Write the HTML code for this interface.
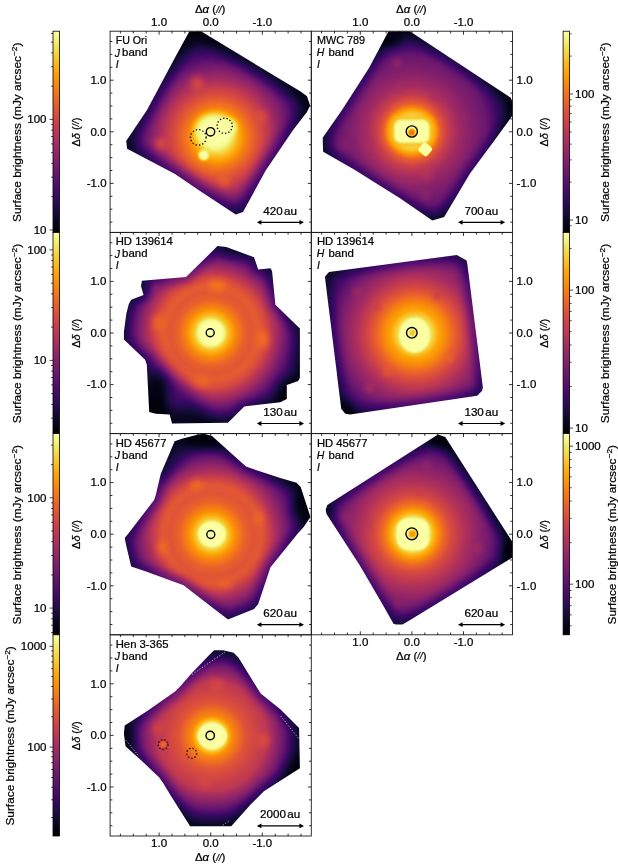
<!DOCTYPE html><html><head><meta charset="utf-8"><style>html,body{margin:0;padding:0;background:#fff;}svg{display:block;filter:blur(0.35px);}text{font-family:"Liberation Sans",sans-serif;fill:#000;stroke:#000;stroke-width:0.22px;}</style></head><body>
<svg width="618" height="866" viewBox="0 0 618 866">
<defs>
<filter id="inf" x="0" y="0" width="1" height="1" color-interpolation-filters="sRGB"><feComponentTransfer><feFuncR type="table" tableValues="0.0015 0.0060 0.0140 0.0258 0.0423 0.0613 0.0820 0.1046 0.1293 0.1558 0.1834 0.2111 0.2383 0.2648 0.2908 0.3163 0.3478 0.3728 0.3977 0.4225 0.4474 0.4723 0.4973 0.5222 0.5472 0.5721 0.5969 0.6217 0.6463 0.6706 0.6946 0.7183 0.7471 0.7696 0.7913 0.8122 0.8323 0.8514 0.8694 0.8863 0.9020 0.9165 0.9296 0.9415 0.9521 0.9613 0.9692 0.9757 0.9819 0.9853 0.9873 0.9879 0.9871 0.9849 0.9812 0.9761 0.9698 0.9625 0.9550 0.9487 0.9464 0.9517 0.9662 0.9884"/><feFuncG type="table" tableValues="0.0005 0.0047 0.0112 0.0193 0.0281 0.0366 0.0433 0.0470 0.0473 0.0446 0.0403 0.0370 0.0366 0.0396 0.0456 0.0535 0.0646 0.0739 0.0833 0.0925 0.1016 0.1105 0.1194 0.1281 0.1369 0.1458 0.1548 0.1642 0.1739 0.1842 0.1950 0.2066 0.2224 0.2361 0.2509 0.2668 0.2839 0.3023 0.3218 0.3426 0.3645 0.3875 0.4115 0.4364 0.4622 0.4887 0.5159 0.5438 0.5794 0.6084 0.6379 0.6677 0.6979 0.7284 0.7591 0.7900 0.8208 0.8515 0.8816 0.9105 0.9372 0.9606 0.9807 0.9984"/><feFuncB type="table" tableValues="0.0139 0.0386 0.0719 0.1059 0.1411 0.1776 0.2153 0.2534 0.2908 0.3253 0.3550 0.3786 0.3964 0.4093 0.4186 0.4251 0.4302 0.4324 0.4332 0.4327 0.4311 0.4283 0.4245 0.4195 0.4135 0.4064 0.3981 0.3888 0.3784 0.3669 0.3544 0.3409 0.3229 0.3075 0.2914 0.2747 0.2574 0.2396 0.2215 0.2030 0.1841 0.1649 0.1454 0.1254 0.1050 0.0843 0.0635 0.0436 0.0262 0.0242 0.0349 0.0583 0.0877 0.1208 0.1569 0.1960 0.2387 0.2855 0.3375 0.3953 0.4586 0.5242 0.5872 0.6449"/></feComponentTransfer></filter>
<linearGradient id="cbg" x1="0" y1="0" x2="0" y2="1"><stop offset="0.000" stop-color="#fcffa4"/><stop offset="0.050" stop-color="#f1ef75"/><stop offset="0.100" stop-color="#f6d746"/><stop offset="0.150" stop-color="#fbbe23"/><stop offset="0.200" stop-color="#fca50a"/><stop offset="0.250" stop-color="#f98e09"/><stop offset="0.300" stop-color="#f37819"/><stop offset="0.350" stop-color="#ea632a"/><stop offset="0.400" stop-color="#dd513a"/><stop offset="0.450" stop-color="#cc4248"/><stop offset="0.500" stop-color="#bc3754"/><stop offset="0.550" stop-color="#a82e5f"/><stop offset="0.600" stop-color="#932667"/><stop offset="0.650" stop-color="#7f1e6c"/><stop offset="0.700" stop-color="#6a176e"/><stop offset="0.750" stop-color="#57106e"/><stop offset="0.800" stop-color="#420a68"/><stop offset="0.850" stop-color="#2b0b57"/><stop offset="0.900" stop-color="#160b39"/><stop offset="0.950" stop-color="#07051b"/><stop offset="1.000" stop-color="#000004"/></linearGradient>
<filter id="b1" x="-150%" y="-150%" width="400%" height="400%"><feGaussianBlur stdDeviation="1"/></filter>
<filter id="b2" x="-150%" y="-150%" width="400%" height="400%"><feGaussianBlur stdDeviation="2"/></filter>
<filter id="b3" x="-150%" y="-150%" width="400%" height="400%"><feGaussianBlur stdDeviation="3"/></filter>
<filter id="b4" x="-150%" y="-150%" width="400%" height="400%"><feGaussianBlur stdDeviation="4"/></filter>
<filter id="b5" x="-150%" y="-150%" width="400%" height="400%"><feGaussianBlur stdDeviation="5"/></filter>
<filter id="b6" x="-150%" y="-150%" width="400%" height="400%"><feGaussianBlur stdDeviation="6"/></filter>
<filter id="b8" x="-150%" y="-150%" width="400%" height="400%"><feGaussianBlur stdDeviation="8"/></filter>
<filter id="b10" x="-150%" y="-150%" width="400%" height="400%"><feGaussianBlur stdDeviation="10"/></filter>
</defs>
<rect width="618" height="866" fill="#fff"/>
<defs>
<radialGradient id="rg0" gradientUnits="userSpaceOnUse" cx="217" cy="137" r="110"><stop offset="0.0000" stop-color="#ffffff"/><stop offset="0.1091" stop-color="#f2f2f2"/><stop offset="0.1818" stop-color="#d6d6d6"/><stop offset="0.2727" stop-color="#b5b5b5"/><stop offset="0.3636" stop-color="#9c9c9c"/><stop offset="0.4545" stop-color="#858585"/><stop offset="0.5455" stop-color="#6b6b6b"/><stop offset="0.6364" stop-color="#545454"/><stop offset="0.7273" stop-color="#3b3b3b"/><stop offset="0.8636" stop-color="#1a1a1a"/><stop offset="1.0000" stop-color="#080808"/></radialGradient>
<clipPath id="cp0"><polygon points="189.4,31.2 201.0,31.2 300.6,91.6 307.0,96.3 310.1,105.5 307.0,112.0 293.1,130.0 265.7,170.6 243.0,212.0 235.7,214.4 200.0,191.0 175.0,174.0 127.1,148.8 126.2,141.1 147.0,110.0 175.3,57.1"/></clipPath>
<radialGradient id="rg1" gradientUnits="userSpaceOnUse" cx="412" cy="131.5" r="115"><stop offset="0.0000" stop-color="#ffffff"/><stop offset="0.1391" stop-color="#ebebeb"/><stop offset="0.1739" stop-color="#d4d4d4"/><stop offset="0.2087" stop-color="#bdbdbd"/><stop offset="0.2435" stop-color="#a3a3a3"/><stop offset="0.3130" stop-color="#878787"/><stop offset="0.4087" stop-color="#6e6e6e"/><stop offset="0.5217" stop-color="#5c5c5c"/><stop offset="0.6522" stop-color="#4c4c4c"/><stop offset="0.7652" stop-color="#2e2e2e"/><stop offset="0.8696" stop-color="#141414"/><stop offset="1.0000" stop-color="#080808"/></radialGradient>
<clipPath id="cp1"><polygon points="388.5,31.2 409.8,31.2 510.8,97.8 512.5,102.0 512.5,115.5 494.8,140.0 470.0,173.4 444.2,217.0 432.3,220.4 400.0,198.3 353.7,169.2 323.1,151.7 322.7,137.7 342.0,110.0 369.0,68.0"/></clipPath>
<radialGradient id="rg2" gradientUnits="userSpaceOnUse" cx="211" cy="333" r="120"><stop offset="0.0000" stop-color="#ffffff"/><stop offset="0.1083" stop-color="#f7f7f7"/><stop offset="0.1417" stop-color="#dbdbdb"/><stop offset="0.2000" stop-color="#bfbfbf"/><stop offset="0.2750" stop-color="#a6a6a6"/><stop offset="0.3333" stop-color="#9c9c9c"/><stop offset="0.4000" stop-color="#9e9e9e"/><stop offset="0.4667" stop-color="#8f8f8f"/><stop offset="0.5417" stop-color="#737373"/><stop offset="0.6250" stop-color="#4f4f4f"/><stop offset="0.7333" stop-color="#262626"/><stop offset="0.8333" stop-color="#0f0f0f"/><stop offset="1.0000" stop-color="#000000"/></radialGradient>
<clipPath id="cp2"><polygon points="141.9,280.7 186.0,277.0 211.0,252.4 217.4,245.9 226.3,247.0 254.1,257.3 258.2,269.6 270.5,268.3 272.1,271.2 275.4,304.7 299.9,328.4 299.9,377.8 298.2,381.0 286.8,385.1 286.8,399.0 280.3,402.3 244.3,406.4 228.0,422.7 172.1,423.5 169.6,414.5 155.8,413.7 149.2,412.1 146.8,364.7 145.1,359.8 123.9,339.4 123.9,332.0 126.3,313.7 128.8,303.9 131.2,299.8 143.5,295.0 141.0,286.0"/></clipPath>
<radialGradient id="rg3" gradientUnits="userSpaceOnUse" cx="415" cy="334" r="110"><stop offset="0.0000" stop-color="#ffffff"/><stop offset="0.1273" stop-color="#f7f7f7"/><stop offset="0.1727" stop-color="#e0e0e0"/><stop offset="0.2182" stop-color="#cccccc"/><stop offset="0.2818" stop-color="#bdbdbd"/><stop offset="0.3636" stop-color="#a3a3a3"/><stop offset="0.4545" stop-color="#8a8a8a"/><stop offset="0.5636" stop-color="#707070"/><stop offset="0.6818" stop-color="#575757"/><stop offset="0.8182" stop-color="#383838"/><stop offset="1.0000" stop-color="#141414"/></radialGradient>
<clipPath id="cp3"><polygon points="329.0,271.9 456.8,255.0 466.6,260.4 467.4,264.5 482.9,387.6 482.1,390.8 477.2,395.7 350.2,414.5 345.3,413.7 341.2,408.8 324.9,276.8"/></clipPath>
<radialGradient id="rg4" gradientUnits="userSpaceOnUse" cx="212" cy="534.5" r="125"><stop offset="0.0000" stop-color="#ffffff"/><stop offset="0.0960" stop-color="#f7f7f7"/><stop offset="0.1280" stop-color="#dedede"/><stop offset="0.1760" stop-color="#c4c4c4"/><stop offset="0.2560" stop-color="#a8a8a8"/><stop offset="0.3360" stop-color="#999999"/><stop offset="0.4000" stop-color="#999999"/><stop offset="0.4800" stop-color="#808080"/><stop offset="0.5760" stop-color="#5c5c5c"/><stop offset="0.7040" stop-color="#333333"/><stop offset="0.8400" stop-color="#0f0f0f"/><stop offset="1.0000" stop-color="#000000"/></radialGradient>
<clipPath id="cp4"><polygon points="174.6,441.2 181.9,438.7 198.2,434.6 204.0,433.8 212.0,436.0 246.0,466.5 257.4,470.6 280.3,478.0 296.6,482.8 300.7,486.9 309.7,514.7 310.5,517.0 303.5,527.3 298.2,533.0 270.5,567.3 263.9,586.9 258.2,604.1 254.1,609.0 228.0,619.6 211.0,606.5 183.5,585.3 159.0,576.3 146.0,571.4 131.2,566.5 126.3,546.1 124.7,537.9 128.0,534.0 154.1,500.0 155.8,495.1 160.7,473.9 170.5,451.0"/></clipPath>
<radialGradient id="rg5" gradientUnits="userSpaceOnUse" cx="413" cy="534" r="115"><stop offset="0.0000" stop-color="#ffffff"/><stop offset="0.1391" stop-color="#f2f2f2"/><stop offset="0.1739" stop-color="#d9d9d9"/><stop offset="0.2174" stop-color="#c2c2c2"/><stop offset="0.2609" stop-color="#adadad"/><stop offset="0.3304" stop-color="#949494"/><stop offset="0.4174" stop-color="#808080"/><stop offset="0.5217" stop-color="#6b6b6b"/><stop offset="0.6522" stop-color="#525252"/><stop offset="0.8261" stop-color="#2b2b2b"/><stop offset="1.0000" stop-color="#0d0d0d"/></radialGradient>
<clipPath id="cp5"><polygon points="438.0,434.6 445.3,437.1 507.4,534.0 512.5,542.0 512.5,557.5 411.0,619.6 402.5,624.5 396.0,624.5 393.5,623.7 382.9,604.9 360.0,565.7 338.8,533.0 326.5,513.9 325.7,509.8 327.3,504.9 412.0,451.0"/></clipPath>
<radialGradient id="rg6" gradientUnits="userSpaceOnUse" cx="212" cy="736" r="120"><stop offset="0.0000" stop-color="#ffffff"/><stop offset="0.1083" stop-color="#f7f7f7"/><stop offset="0.1333" stop-color="#d9d9d9"/><stop offset="0.1667" stop-color="#bfbfbf"/><stop offset="0.2750" stop-color="#9c9c9c"/><stop offset="0.3750" stop-color="#8c8c8c"/><stop offset="0.4583" stop-color="#808080"/><stop offset="0.5583" stop-color="#5c5c5c"/><stop offset="0.6667" stop-color="#303030"/><stop offset="0.7500" stop-color="#1a1a1a"/><stop offset="0.8333" stop-color="#0d0d0d"/><stop offset="1.0000" stop-color="#050505"/></radialGradient>
<clipPath id="cp6"><polygon points="209.7,654.4 214.1,650.3 223.1,650.3 233.7,652.8 238.6,657.7 260.7,693.6 280.3,709.2 299.1,728.0 299.9,768.3 263.9,791.2 250.9,804.3 231.2,826.3 190.1,826.3 170.5,795.3 163.1,783.0 159.0,777.3 142.7,761.8 125.5,746.3 123.9,734.0 124.7,725.5 147.6,710.8 175.4,691.2 180.3,686.3 191.7,673.2"/></clipPath>
</defs>
<g clip-path="url(#cp0)"><g filter="url(#inf)">
<rect x="110.1" y="31.2" width="201.2" height="201.2" fill="url(#rg0)"/>
<ellipse cx="214" cy="131" rx="19" ry="17" fill="#ffffff" opacity="1.0" filter="url(#b3)"/>
<ellipse cx="228" cy="127" rx="9" ry="9" fill="#ffffff" opacity="0.9" filter="url(#b2)"/>
<ellipse cx="203.7" cy="155.2" rx="5.3" ry="5.3" fill="#ffffff" opacity="1.0" filter="url(#b1)"/>
<ellipse cx="224.3" cy="180.8" rx="6" ry="6" fill="#a8a8a8" opacity="0.8" filter="url(#b3)"/>
<ellipse cx="160.6" cy="144" rx="6" ry="6" fill="#999999" opacity="0.9" filter="url(#b3)"/>
<ellipse cx="197" cy="83" rx="7" ry="7" fill="#9e9e9e" opacity="0.7" filter="url(#b3)"/>
<ellipse cx="261.5" cy="116.6" rx="6" ry="6" fill="#9e9e9e" opacity="0.7" filter="url(#b3)"/>
<line x1="196" y1="28" x2="312" y2="103" stroke="#000" stroke-width="16" opacity="0.25" filter="url(#b6)"/>
<polygon points="189.4,31.2 201.0,31.2 300.6,91.6 307.0,96.3 310.1,105.5 307.0,112.0 293.1,130.0 265.7,170.6 243.0,212.0 235.7,214.4 200.0,191.0 175.0,174.0 127.1,148.8 126.2,141.1 147.0,110.0 175.3,57.1" fill="none" stroke="#000" stroke-width="14" opacity="0.6" filter="url(#b6)"/>
</g>
</g>
<circle cx="210.5" cy="131.8" r="4.2" fill="none" stroke="#000" stroke-width="1.4"/>
<circle cx="198.3" cy="137.4" r="7.8" fill="none" stroke="#000" stroke-width="1.3" stroke-dasharray="1.3 2.1"/>
<circle cx="224.7" cy="125.8" r="7.6" fill="none" stroke="#000" stroke-width="1.3" stroke-dasharray="1.3 2.1"/>
<g clip-path="url(#cp1)"><g filter="url(#inf)">
<rect x="311.3" y="31.2" width="201.2" height="201.2" fill="url(#rg1)"/>
<ellipse cx="426" cy="174" rx="6" ry="6" fill="#808080" opacity="0.7" filter="url(#b3)"/>
<ellipse cx="345" cy="145" rx="6" ry="6" fill="#616161" opacity="0.6" filter="url(#b3)"/>
<ellipse cx="368" cy="143" rx="6" ry="6" fill="#737373" opacity="0.6" filter="url(#b3)"/>
<ellipse cx="397" cy="63.5" rx="5" ry="5" fill="#6b6b6b" opacity="0.6" filter="url(#b2)"/>
<ellipse cx="399" cy="88" rx="5" ry="5" fill="#757575" opacity="0.6" filter="url(#b2)"/>
<ellipse cx="434.6" cy="96" rx="5" ry="5" fill="#757575" opacity="0.6" filter="url(#b2)"/>
<ellipse cx="463.8" cy="115.6" rx="5" ry="5" fill="#666666" opacity="0.6" filter="url(#b2)"/>
<ellipse cx="426" cy="195" rx="5" ry="5" fill="#666666" opacity="0.6" filter="url(#b2)"/>
<ellipse cx="389" cy="40" rx="14" ry="7" fill="#000000" opacity="0.7" filter="url(#b5)"/>
<rect x="389" y="115.5" width="45.6" height="31.5" rx="12" fill="#d6d6d6" filter="url(#b3)"/>
<rect x="394" y="119.6" width="35.6" height="23.5" rx="7" fill="#ffffff" filter="url(#b1)"/>
<rect x="419.7" y="143.9" width="11.2" height="11.2" rx="2.5" fill="#ffffff" transform="rotate(40 425.3 149.5)"/>
<polygon points="388.5,31.2 409.8,31.2 510.8,97.8 512.5,102.0 512.5,115.5 494.8,140.0 470.0,173.4 444.2,217.0 432.3,220.4 400.0,198.3 353.7,169.2 323.1,151.7 322.7,137.7 342.0,110.0 369.0,68.0" fill="none" stroke="#000" stroke-width="12" opacity="0.5" filter="url(#b5)"/>
<circle cx="411.8" cy="132.5" r="3.5" fill="#adadad" filter="url(#b1)"/>
</g>
</g>
<circle cx="411.8" cy="131.5" r="5.6" fill="none" stroke="#000" stroke-width="1.4"/>
<g clip-path="url(#cp2)"><g filter="url(#inf)">
<rect x="110.1" y="232.4" width="201.2" height="201.2" fill="url(#rg2)"/>
<ellipse cx="211.5" cy="333" rx="12" ry="12" fill="#ffffff" opacity="1.0" filter="url(#b1)"/>
<ellipse cx="157" cy="395" rx="12" ry="24" fill="#000000" opacity="0.85" filter="url(#b6)"/>
<ellipse cx="185" cy="416" rx="16" ry="8" fill="#0d0d0d" opacity="0.6" filter="url(#b5)"/>
<ellipse cx="138" cy="290" rx="8" ry="8" fill="#0d0d0d" opacity="0.6" filter="url(#b4)"/>
<ellipse cx="288" cy="392" rx="12" ry="12" fill="#000000" opacity="0.6" filter="url(#b6)"/>
<ellipse cx="232" cy="250" rx="14" ry="8" fill="#0d0d0d" opacity="0.5" filter="url(#b5)"/>
<ellipse cx="217.3" cy="285.7" rx="9" ry="6" fill="#b8b8b8" opacity="0.8" filter="url(#b3)"/>
<ellipse cx="158.8" cy="323" rx="6" ry="9" fill="#adadad" opacity="0.8" filter="url(#b3)"/>
<ellipse cx="262.8" cy="339.3" rx="6" ry="9" fill="#b2b2b2" opacity="0.8" filter="url(#b3)"/>
<ellipse cx="201" cy="381.6" rx="9" ry="6" fill="#adadad" opacity="0.8" filter="url(#b3)"/>
<ellipse cx="155.8" cy="286" rx="4" ry="3" fill="#737373" opacity="0.7" filter="url(#b2)"/>
<line x1="140" y1="355" x2="215" y2="430" stroke="#000" stroke-width="18" opacity="0.55" filter="url(#b8)"/>
<line x1="272" y1="268" x2="300" y2="330" stroke="#000" stroke-width="10" opacity="0.3" filter="url(#b6)"/>
<circle cx="211" cy="333" r="47" fill="none" stroke="#adadad" stroke-width="12" opacity="0.22" filter="url(#b4)"/>
<polygon points="141.9,280.7 186.0,277.0 211.0,252.4 217.4,245.9 226.3,247.0 254.1,257.3 258.2,269.6 270.5,268.3 272.1,271.2 275.4,304.7 299.9,328.4 299.9,377.8 298.2,381.0 286.8,385.1 286.8,399.0 280.3,402.3 244.3,406.4 228.0,422.7 172.1,423.5 169.6,414.5 155.8,413.7 149.2,412.1 146.8,364.7 145.1,359.8 123.9,339.4 123.9,332.0 126.3,313.7 128.8,303.9 131.2,299.8 143.5,295.0 141.0,286.0" fill="none" stroke="#000" stroke-width="10" opacity="0.4" filter="url(#b5)"/>
</g>
</g>
<circle cx="210.2" cy="332.8" r="4.0" fill="none" stroke="#000" stroke-width="1.4"/>
<g clip-path="url(#cp3)"><g filter="url(#inf)">
<rect x="311.3" y="232.4" width="201.2" height="201.2" fill="url(#rg3)"/>
<ellipse cx="414.5" cy="335.5" rx="15" ry="17.5" fill="#ffffff" opacity="1.0" filter="url(#b1)"/>
<ellipse cx="345" cy="410" rx="10" ry="10" fill="#000000" opacity="0.7" filter="url(#b5)"/>
<ellipse cx="357.6" cy="292.3" rx="5" ry="5" fill="#737373" opacity="0.6" filter="url(#b2)"/>
<ellipse cx="375.6" cy="307" rx="4" ry="4" fill="#858585" opacity="0.6" filter="url(#b2)"/>
<ellipse cx="452.7" cy="276.8" rx="5" ry="5" fill="#6b6b6b" opacity="0.6" filter="url(#b2)"/>
<ellipse cx="437.1" cy="295.6" rx="4" ry="4" fill="#808080" opacity="0.6" filter="url(#b2)"/>
<ellipse cx="449.2" cy="357.2" rx="5" ry="5" fill="#a8a8a8" opacity="0.6" filter="url(#b2)"/>
<ellipse cx="387.4" cy="371.8" rx="5" ry="5" fill="#a3a3a3" opacity="0.6" filter="url(#b2)"/>
<ellipse cx="369.5" cy="388" rx="5" ry="5" fill="#7a7a7a" opacity="0.6" filter="url(#b2)"/>
<polygon points="329.0,271.9 456.8,255.0 466.6,260.4 467.4,264.5 482.9,387.6 482.1,390.8 477.2,395.7 350.2,414.5 345.3,413.7 341.2,408.8 324.9,276.8" fill="none" stroke="#000" stroke-width="10" opacity="0.5" filter="url(#b5)"/>
<circle cx="412.5" cy="333" r="3.2" fill="#dbdbdb" filter="url(#b1)"/>
</g>
</g>
<circle cx="411.8" cy="332.8" r="5.3" fill="none" stroke="#000" stroke-width="1.4"/>
<g clip-path="url(#cp4)"><g filter="url(#inf)">
<rect x="110.1" y="433.6" width="201.2" height="201.2" fill="url(#rg4)"/>
<ellipse cx="212" cy="534" rx="13.5" ry="12" fill="#ffffff" opacity="1.0" filter="url(#b1)"/>
<ellipse cx="206" cy="440" rx="18" ry="10" fill="#000000" opacity="0.8" filter="url(#b6)"/>
<ellipse cx="302" cy="508" rx="10" ry="16" fill="#000000" opacity="0.8" filter="url(#b6)"/>
<ellipse cx="196.6" cy="485.3" rx="7" ry="5" fill="#b2b2b2" opacity="0.8" filter="url(#b3)"/>
<ellipse cx="162.3" cy="547.7" rx="5" ry="7" fill="#b2b2b2" opacity="0.8" filter="url(#b3)"/>
<ellipse cx="224.7" cy="583.7" rx="7" ry="5" fill="#a8a8a8" opacity="0.8" filter="url(#b3)"/>
<ellipse cx="259" cy="518" rx="5" ry="7" fill="#adadad" opacity="0.8" filter="url(#b3)"/>
<line x1="200" y1="432" x2="160" y2="478" stroke="#000" stroke-width="14" opacity="0.45" filter="url(#b6)"/>
<line x1="210" y1="432" x2="305" y2="488" stroke="#000" stroke-width="14" opacity="0.4" filter="url(#b6)"/>
<circle cx="212" cy="534.5" r="48" fill="none" stroke="#adadad" stroke-width="12" opacity="0.25" filter="url(#b4)"/>
<polygon points="174.6,441.2 181.9,438.7 198.2,434.6 204.0,433.8 212.0,436.0 246.0,466.5 257.4,470.6 280.3,478.0 296.6,482.8 300.7,486.9 309.7,514.7 310.5,517.0 303.5,527.3 298.2,533.0 270.5,567.3 263.9,586.9 258.2,604.1 254.1,609.0 228.0,619.6 211.0,606.5 183.5,585.3 159.0,576.3 146.0,571.4 131.2,566.5 126.3,546.1 124.7,537.9 128.0,534.0 154.1,500.0 155.8,495.1 160.7,473.9 170.5,451.0" fill="none" stroke="#000" stroke-width="12" opacity="0.45" filter="url(#b5)"/>
</g>
</g>
<circle cx="210.8" cy="534.5" r="4.0" fill="none" stroke="#000" stroke-width="1.4"/>
<g clip-path="url(#cp5)"><g filter="url(#inf)">
<rect x="311.3" y="433.6" width="201.2" height="201.2" fill="url(#rg5)"/>
<ellipse cx="345.3" cy="518" rx="5" ry="5" fill="#6b6b6b" opacity="0.6" filter="url(#b2)"/>
<ellipse cx="367.4" cy="526" rx="5" ry="4" fill="#808080" opacity="0.6" filter="url(#b2)"/>
<ellipse cx="426.5" cy="465.7" rx="5" ry="5" fill="#6b6b6b" opacity="0.6" filter="url(#b2)"/>
<ellipse cx="478" cy="548.5" rx="5" ry="5" fill="#737373" opacity="0.6" filter="url(#b2)"/>
<ellipse cx="420" cy="491.5" rx="4" ry="5" fill="#858585" opacity="0.6" filter="url(#b2)"/>
<ellipse cx="403.7" cy="579.3" rx="4" ry="5" fill="#858585" opacity="0.6" filter="url(#b2)"/>
<ellipse cx="397.2" cy="602.1" rx="5" ry="5" fill="#666666" opacity="0.6" filter="url(#b2)"/>
<ellipse cx="441" cy="440" rx="12" ry="9" fill="#000000" opacity="0.8" filter="url(#b5)"/>
<ellipse cx="510" cy="552" rx="9" ry="12" fill="#000000" opacity="0.8" filter="url(#b5)"/>
<ellipse cx="327" cy="510" rx="6" ry="8" fill="#000000" opacity="0.5" filter="url(#b4)"/>
<line x1="442" y1="432" x2="518" y2="552" stroke="#000" stroke-width="12" opacity="0.45" filter="url(#b5)"/>
<rect x="397" y="518.5" width="32" height="31.5" rx="10" fill="#ffffff" filter="url(#b1)"/>
<polygon points="438.0,434.6 445.3,437.1 507.4,534.0 512.5,542.0 512.5,557.5 411.0,619.6 402.5,624.5 396.0,624.5 393.5,623.7 382.9,604.9 360.0,565.7 338.8,533.0 326.5,513.9 325.7,509.8 327.3,504.9 412.0,451.0" fill="none" stroke="#000" stroke-width="12" opacity="0.5" filter="url(#b5)"/>
<circle cx="412.5" cy="534" r="3.8" fill="#c2c2c2" filter="url(#b1)"/>
</g>
</g>
<circle cx="411.8" cy="533.8" r="5.9" fill="none" stroke="#000" stroke-width="1.4"/>
<g clip-path="url(#cp6)"><g filter="url(#inf)">
<rect x="110.1" y="634.8" width="201.2" height="201.2" fill="url(#rg6)"/>
<ellipse cx="212.5" cy="736" rx="14.5" ry="12" fill="#ffffff" opacity="1.0" filter="url(#b1)"/>
<ellipse cx="297" cy="770" rx="10" ry="14" fill="#000000" opacity="0.7" filter="url(#b6)"/>
<ellipse cx="128" cy="737" rx="8" ry="14" fill="#000000" opacity="0.5" filter="url(#b5)"/>
<ellipse cx="216.5" cy="684.7" rx="7" ry="6" fill="#949494" opacity="0.8" filter="url(#b3)"/>
<ellipse cx="262.3" cy="740.5" rx="7" ry="7" fill="#999999" opacity="0.8" filter="url(#b3)"/>
<ellipse cx="158" cy="728" rx="6" ry="6" fill="#949494" opacity="0.7" filter="url(#b3)"/>
<ellipse cx="163.1" cy="744.6" rx="3" ry="3" fill="#b2b2b2" opacity="0.9" filter="url(#b1)"/>
<ellipse cx="205" cy="782" rx="7" ry="6" fill="#949494" opacity="0.7" filter="url(#b3)"/>
<polygon points="209.7,654.4 214.1,650.3 223.1,650.3 233.7,652.8 238.6,657.7 260.7,693.6 280.3,709.2 299.1,728.0 299.9,768.3 263.9,791.2 250.9,804.3 231.2,826.3 190.1,826.3 170.5,795.3 163.1,783.0 159.0,777.3 142.7,761.8 125.5,746.3 123.9,734.0 124.7,725.5 147.6,710.8 175.4,691.2 180.3,686.3 191.7,673.2" fill="none" stroke="#000" stroke-width="12" opacity="0.45" filter="url(#b5)"/>
</g>
<line x1="192" y1="674.5" x2="225" y2="652" stroke="#fff" stroke-width="0.9" stroke-dasharray="1.2 1.8" opacity="0.75"/>
<line x1="280.8" y1="716.1" x2="299" y2="739" stroke="#fff" stroke-width="0.9" stroke-dasharray="1.2 1.8" opacity="0.75"/>
<line x1="124.2" y1="738" x2="138.1" y2="755.2" stroke="#fff" stroke-width="0.9" stroke-dasharray="1.2 1.8" opacity="0.75"/>
<line x1="222.7" y1="825.2" x2="229.5" y2="820.5" stroke="#fff" stroke-width="0.9" stroke-dasharray="1.2 1.8" opacity="0.75"/>
</g>
<circle cx="210.2" cy="735.5" r="4.2" fill="none" stroke="#000" stroke-width="1.4"/>
<circle cx="163.1" cy="744.6" r="4.9" fill="none" stroke="#000" stroke-width="1.3" stroke-dasharray="1.3 2.1"/>
<circle cx="191.7" cy="753.3" r="5.0" fill="none" stroke="#000" stroke-width="1.3" stroke-dasharray="1.3 2.1"/>
<rect x="110.10" y="31.20" width="201.2" height="201.2" fill="none" stroke="#1a1a1a" stroke-width="0.9"/>
<path d="M301.00 31.20v2.3M311.30 222.10h-2.3M110.10 222.10h2.3M288.10 31.20v2.3M311.30 209.20h-2.3M110.10 209.20h2.3M275.20 31.20v2.3M311.30 196.30h-2.3M110.10 196.30h2.3M262.30 31.20v3.5M311.30 183.40h-3.5M110.10 183.40h3.5M249.40 31.20v2.3M311.30 170.50h-2.3M110.10 170.50h2.3M236.50 31.20v2.3M311.30 157.60h-2.3M110.10 157.60h2.3M223.60 31.20v2.3M311.30 144.70h-2.3M110.10 144.70h2.3M210.70 31.20v3.5M311.30 131.80h-3.5M110.10 131.80h3.5M197.80 31.20v2.3M311.30 118.90h-2.3M110.10 118.90h2.3M184.90 31.20v2.3M311.30 106.00h-2.3M110.10 106.00h2.3M172.00 31.20v2.3M311.30 93.10h-2.3M110.10 93.10h2.3M159.10 31.20v3.5M311.30 80.20h-3.5M110.10 80.20h3.5M146.20 31.20v2.3M311.30 67.30h-2.3M110.10 67.30h2.3M133.30 31.20v2.3M311.30 54.40h-2.3M110.10 54.40h2.3M120.40 31.20v2.3M311.30 41.50h-2.3M110.10 41.50h2.3" stroke="#000" stroke-width="0.8" fill="none"/>
<rect x="311.30" y="31.20" width="201.2" height="201.2" fill="none" stroke="#1a1a1a" stroke-width="0.9"/>
<path d="M502.20 31.20v2.3M512.50 222.10h-2.3M489.30 31.20v2.3M512.50 209.20h-2.3M476.40 31.20v2.3M512.50 196.30h-2.3M463.50 31.20v3.5M512.50 183.40h-3.5M450.60 31.20v2.3M512.50 170.50h-2.3M437.70 31.20v2.3M512.50 157.60h-2.3M424.80 31.20v2.3M512.50 144.70h-2.3M411.90 31.20v3.5M512.50 131.80h-3.5M399.00 31.20v2.3M512.50 118.90h-2.3M386.10 31.20v2.3M512.50 106.00h-2.3M373.20 31.20v2.3M512.50 93.10h-2.3M360.30 31.20v3.5M512.50 80.20h-3.5M347.40 31.20v2.3M512.50 67.30h-2.3M334.50 31.20v2.3M512.50 54.40h-2.3M321.60 31.20v2.3M512.50 41.50h-2.3" stroke="#000" stroke-width="0.8" fill="none"/>
<rect x="110.10" y="232.40" width="201.2" height="201.2" fill="none" stroke="#1a1a1a" stroke-width="0.9"/>
<path d="M301.00 232.40v2.3M311.30 423.30h-2.3M110.10 423.30h2.3M288.10 232.40v2.3M311.30 410.40h-2.3M110.10 410.40h2.3M275.20 232.40v2.3M311.30 397.50h-2.3M110.10 397.50h2.3M262.30 232.40v3.5M311.30 384.60h-3.5M110.10 384.60h3.5M249.40 232.40v2.3M311.30 371.70h-2.3M110.10 371.70h2.3M236.50 232.40v2.3M311.30 358.80h-2.3M110.10 358.80h2.3M223.60 232.40v2.3M311.30 345.90h-2.3M110.10 345.90h2.3M210.70 232.40v3.5M311.30 333.00h-3.5M110.10 333.00h3.5M197.80 232.40v2.3M311.30 320.10h-2.3M110.10 320.10h2.3M184.90 232.40v2.3M311.30 307.20h-2.3M110.10 307.20h2.3M172.00 232.40v2.3M311.30 294.30h-2.3M110.10 294.30h2.3M159.10 232.40v3.5M311.30 281.40h-3.5M110.10 281.40h3.5M146.20 232.40v2.3M311.30 268.50h-2.3M110.10 268.50h2.3M133.30 232.40v2.3M311.30 255.60h-2.3M110.10 255.60h2.3M120.40 232.40v2.3M311.30 242.70h-2.3M110.10 242.70h2.3" stroke="#000" stroke-width="0.8" fill="none"/>
<rect x="311.30" y="232.40" width="201.2" height="201.2" fill="none" stroke="#1a1a1a" stroke-width="0.9"/>
<path d="M502.20 232.40v2.3M512.50 423.30h-2.3M489.30 232.40v2.3M512.50 410.40h-2.3M476.40 232.40v2.3M512.50 397.50h-2.3M463.50 232.40v3.5M512.50 384.60h-3.5M450.60 232.40v2.3M512.50 371.70h-2.3M437.70 232.40v2.3M512.50 358.80h-2.3M424.80 232.40v2.3M512.50 345.90h-2.3M411.90 232.40v3.5M512.50 333.00h-3.5M399.00 232.40v2.3M512.50 320.10h-2.3M386.10 232.40v2.3M512.50 307.20h-2.3M373.20 232.40v2.3M512.50 294.30h-2.3M360.30 232.40v3.5M512.50 281.40h-3.5M347.40 232.40v2.3M512.50 268.50h-2.3M334.50 232.40v2.3M512.50 255.60h-2.3M321.60 232.40v2.3M512.50 242.70h-2.3" stroke="#000" stroke-width="0.8" fill="none"/>
<rect x="110.10" y="433.60" width="201.2" height="201.2" fill="none" stroke="#1a1a1a" stroke-width="0.9"/>
<path d="M301.00 433.60v2.3M311.30 624.50h-2.3M110.10 624.50h2.3M288.10 433.60v2.3M311.30 611.60h-2.3M110.10 611.60h2.3M275.20 433.60v2.3M311.30 598.70h-2.3M110.10 598.70h2.3M262.30 433.60v3.5M311.30 585.80h-3.5M110.10 585.80h3.5M249.40 433.60v2.3M311.30 572.90h-2.3M110.10 572.90h2.3M236.50 433.60v2.3M311.30 560.00h-2.3M110.10 560.00h2.3M223.60 433.60v2.3M311.30 547.10h-2.3M110.10 547.10h2.3M210.70 433.60v3.5M311.30 534.20h-3.5M110.10 534.20h3.5M197.80 433.60v2.3M311.30 521.30h-2.3M110.10 521.30h2.3M184.90 433.60v2.3M311.30 508.40h-2.3M110.10 508.40h2.3M172.00 433.60v2.3M311.30 495.50h-2.3M110.10 495.50h2.3M159.10 433.60v3.5M311.30 482.60h-3.5M110.10 482.60h3.5M146.20 433.60v2.3M311.30 469.70h-2.3M110.10 469.70h2.3M133.30 433.60v2.3M311.30 456.80h-2.3M110.10 456.80h2.3M120.40 433.60v2.3M311.30 443.90h-2.3M110.10 443.90h2.3" stroke="#000" stroke-width="0.8" fill="none"/>
<rect x="311.30" y="433.60" width="201.2" height="201.2" fill="none" stroke="#1a1a1a" stroke-width="0.9"/>
<path d="M502.20 433.60v2.3M512.50 624.50h-2.3M502.20 634.80v-2.3M489.30 433.60v2.3M512.50 611.60h-2.3M489.30 634.80v-2.3M476.40 433.60v2.3M512.50 598.70h-2.3M476.40 634.80v-2.3M463.50 433.60v3.5M512.50 585.80h-3.5M463.50 634.80v-3.5M450.60 433.60v2.3M512.50 572.90h-2.3M450.60 634.80v-2.3M437.70 433.60v2.3M512.50 560.00h-2.3M437.70 634.80v-2.3M424.80 433.60v2.3M512.50 547.10h-2.3M424.80 634.80v-2.3M411.90 433.60v3.5M512.50 534.20h-3.5M411.90 634.80v-3.5M399.00 433.60v2.3M512.50 521.30h-2.3M399.00 634.80v-2.3M386.10 433.60v2.3M512.50 508.40h-2.3M386.10 634.80v-2.3M373.20 433.60v2.3M512.50 495.50h-2.3M373.20 634.80v-2.3M360.30 433.60v3.5M512.50 482.60h-3.5M360.30 634.80v-3.5M347.40 433.60v2.3M512.50 469.70h-2.3M347.40 634.80v-2.3M334.50 433.60v2.3M512.50 456.80h-2.3M334.50 634.80v-2.3M321.60 433.60v2.3M512.50 443.90h-2.3M321.60 634.80v-2.3" stroke="#000" stroke-width="0.8" fill="none"/>
<rect x="110.10" y="634.80" width="201.2" height="201.2" fill="none" stroke="#1a1a1a" stroke-width="0.9"/>
<path d="M301.00 634.80v2.3M311.30 825.70h-2.3M301.00 836.00v-2.3M110.10 825.70h2.3M288.10 634.80v2.3M311.30 812.80h-2.3M288.10 836.00v-2.3M110.10 812.80h2.3M275.20 634.80v2.3M311.30 799.90h-2.3M275.20 836.00v-2.3M110.10 799.90h2.3M262.30 634.80v3.5M311.30 787.00h-3.5M262.30 836.00v-3.5M110.10 787.00h3.5M249.40 634.80v2.3M311.30 774.10h-2.3M249.40 836.00v-2.3M110.10 774.10h2.3M236.50 634.80v2.3M311.30 761.20h-2.3M236.50 836.00v-2.3M110.10 761.20h2.3M223.60 634.80v2.3M311.30 748.30h-2.3M223.60 836.00v-2.3M110.10 748.30h2.3M210.70 634.80v3.5M311.30 735.40h-3.5M210.70 836.00v-3.5M110.10 735.40h3.5M197.80 634.80v2.3M311.30 722.50h-2.3M197.80 836.00v-2.3M110.10 722.50h2.3M184.90 634.80v2.3M311.30 709.60h-2.3M184.90 836.00v-2.3M110.10 709.60h2.3M172.00 634.80v2.3M311.30 696.70h-2.3M172.00 836.00v-2.3M110.10 696.70h2.3M159.10 634.80v3.5M311.30 683.80h-3.5M159.10 836.00v-3.5M110.10 683.80h3.5M146.20 634.80v2.3M311.30 670.90h-2.3M146.20 836.00v-2.3M110.10 670.90h2.3M133.30 634.80v2.3M311.30 658.00h-2.3M133.30 836.00v-2.3M110.10 658.00h2.3M120.40 634.80v2.3M311.30 645.10h-2.3M120.40 836.00v-2.3M110.10 645.10h2.3" stroke="#000" stroke-width="0.8" fill="none"/>
<text x="159.10" y="25.50" font-size="10.4" text-anchor="middle" textLength="16.06" lengthAdjust="spacingAndGlyphs" >1.0</text>
<text x="210.70" y="25.50" font-size="10.4" text-anchor="middle" textLength="16.06" lengthAdjust="spacingAndGlyphs" >0.0</text>
<text x="262.30" y="25.50" font-size="10.4" text-anchor="middle" textLength="19.71" lengthAdjust="spacingAndGlyphs" >-1.0</text>
<text x="210.10" y="13.30" font-size="10.4" text-anchor="middle" textLength="30.40" lengthAdjust="spacingAndGlyphs" >Δ<tspan font-style="italic">α</tspan> (<tspan font-style="italic" font-size="8.6" dy="-0.8">//</tspan><tspan dy="0.8">)</tspan></text>
<text x="360.30" y="25.50" font-size="10.4" text-anchor="middle" textLength="16.06" lengthAdjust="spacingAndGlyphs" >1.0</text>
<text x="411.90" y="25.50" font-size="10.4" text-anchor="middle" textLength="16.06" lengthAdjust="spacingAndGlyphs" >0.0</text>
<text x="463.50" y="25.50" font-size="10.4" text-anchor="middle" textLength="19.71" lengthAdjust="spacingAndGlyphs" >-1.0</text>
<text x="411.30" y="13.30" font-size="10.4" text-anchor="middle" textLength="30.40" lengthAdjust="spacingAndGlyphs" >Δ<tspan font-style="italic">α</tspan> (<tspan font-style="italic" font-size="8.6" dy="-0.8">//</tspan><tspan dy="0.8">)</tspan></text>
<text x="360.30" y="646.10" font-size="10.4" text-anchor="middle" textLength="16.06" lengthAdjust="spacingAndGlyphs" >1.0</text>
<text x="411.90" y="646.10" font-size="10.4" text-anchor="middle" textLength="16.06" lengthAdjust="spacingAndGlyphs" >0.0</text>
<text x="463.50" y="646.10" font-size="10.4" text-anchor="middle" textLength="19.71" lengthAdjust="spacingAndGlyphs" >-1.0</text>
<text x="411.30" y="660.10" font-size="10.4" text-anchor="middle" textLength="30.40" lengthAdjust="spacingAndGlyphs" >Δ<tspan font-style="italic">α</tspan> (<tspan font-style="italic" font-size="8.6" dy="-0.8">//</tspan><tspan dy="0.8">)</tspan></text>
<text x="159.10" y="847.30" font-size="10.4" text-anchor="middle" textLength="16.06" lengthAdjust="spacingAndGlyphs" >1.0</text>
<text x="210.70" y="847.30" font-size="10.4" text-anchor="middle" textLength="16.06" lengthAdjust="spacingAndGlyphs" >0.0</text>
<text x="262.30" y="847.30" font-size="10.4" text-anchor="middle" textLength="19.71" lengthAdjust="spacingAndGlyphs" >-1.0</text>
<text x="210.10" y="861.30" font-size="10.4" text-anchor="middle" textLength="30.40" lengthAdjust="spacingAndGlyphs" >Δ<tspan font-style="italic">α</tspan> (<tspan font-style="italic" font-size="8.6" dy="-0.8">//</tspan><tspan dy="0.8">)</tspan></text>
<text x="106.50" y="83.90" font-size="10.4" text-anchor="end" textLength="16.06" lengthAdjust="spacingAndGlyphs" >1.0</text>
<text x="106.50" y="135.50" font-size="10.4" text-anchor="end" textLength="16.06" lengthAdjust="spacingAndGlyphs" >0.0</text>
<text x="106.50" y="187.10" font-size="10.4" text-anchor="end" textLength="19.71" lengthAdjust="spacingAndGlyphs" >-1.0</text>
<text transform="translate(79.6,132.10) rotate(-90)" font-size="10.4" text-anchor="middle" textLength="28.9" lengthAdjust="spacingAndGlyphs">Δ<tspan font-style="italic">δ</tspan> (<tspan font-style="italic" font-size="8.6" dy="-0.8">//</tspan><tspan dy="0.8">)</tspan></text>
<text x="516.60" y="83.90" font-size="10.4" text-anchor="start" textLength="16.06" lengthAdjust="spacingAndGlyphs" >1.0</text>
<text x="516.60" y="135.50" font-size="10.4" text-anchor="start" textLength="16.06" lengthAdjust="spacingAndGlyphs" >0.0</text>
<text x="516.60" y="187.10" font-size="10.4" text-anchor="start" textLength="19.71" lengthAdjust="spacingAndGlyphs" >-1.0</text>
<text transform="translate(548.2,132.10) rotate(-90)" font-size="10.4" text-anchor="middle" textLength="28.9" lengthAdjust="spacingAndGlyphs">Δ<tspan font-style="italic">δ</tspan> (<tspan font-style="italic" font-size="8.6" dy="-0.8">//</tspan><tspan dy="0.8">)</tspan></text>
<text x="106.50" y="285.10" font-size="10.4" text-anchor="end" textLength="16.06" lengthAdjust="spacingAndGlyphs" >1.0</text>
<text x="106.50" y="336.70" font-size="10.4" text-anchor="end" textLength="16.06" lengthAdjust="spacingAndGlyphs" >0.0</text>
<text x="106.50" y="388.30" font-size="10.4" text-anchor="end" textLength="19.71" lengthAdjust="spacingAndGlyphs" >-1.0</text>
<text transform="translate(79.6,333.30) rotate(-90)" font-size="10.4" text-anchor="middle" textLength="28.9" lengthAdjust="spacingAndGlyphs">Δ<tspan font-style="italic">δ</tspan> (<tspan font-style="italic" font-size="8.6" dy="-0.8">//</tspan><tspan dy="0.8">)</tspan></text>
<text x="516.60" y="285.10" font-size="10.4" text-anchor="start" textLength="16.06" lengthAdjust="spacingAndGlyphs" >1.0</text>
<text x="516.60" y="336.70" font-size="10.4" text-anchor="start" textLength="16.06" lengthAdjust="spacingAndGlyphs" >0.0</text>
<text x="516.60" y="388.30" font-size="10.4" text-anchor="start" textLength="19.71" lengthAdjust="spacingAndGlyphs" >-1.0</text>
<text transform="translate(548.2,333.30) rotate(-90)" font-size="10.4" text-anchor="middle" textLength="28.9" lengthAdjust="spacingAndGlyphs">Δ<tspan font-style="italic">δ</tspan> (<tspan font-style="italic" font-size="8.6" dy="-0.8">//</tspan><tspan dy="0.8">)</tspan></text>
<text x="106.50" y="486.30" font-size="10.4" text-anchor="end" textLength="16.06" lengthAdjust="spacingAndGlyphs" >1.0</text>
<text x="106.50" y="537.90" font-size="10.4" text-anchor="end" textLength="16.06" lengthAdjust="spacingAndGlyphs" >0.0</text>
<text x="106.50" y="589.50" font-size="10.4" text-anchor="end" textLength="19.71" lengthAdjust="spacingAndGlyphs" >-1.0</text>
<text transform="translate(79.6,534.50) rotate(-90)" font-size="10.4" text-anchor="middle" textLength="28.9" lengthAdjust="spacingAndGlyphs">Δ<tspan font-style="italic">δ</tspan> (<tspan font-style="italic" font-size="8.6" dy="-0.8">//</tspan><tspan dy="0.8">)</tspan></text>
<text x="516.60" y="486.30" font-size="10.4" text-anchor="start" textLength="16.06" lengthAdjust="spacingAndGlyphs" >1.0</text>
<text x="516.60" y="537.90" font-size="10.4" text-anchor="start" textLength="16.06" lengthAdjust="spacingAndGlyphs" >0.0</text>
<text x="516.60" y="589.50" font-size="10.4" text-anchor="start" textLength="19.71" lengthAdjust="spacingAndGlyphs" >-1.0</text>
<text transform="translate(548.2,534.50) rotate(-90)" font-size="10.4" text-anchor="middle" textLength="28.9" lengthAdjust="spacingAndGlyphs">Δ<tspan font-style="italic">δ</tspan> (<tspan font-style="italic" font-size="8.6" dy="-0.8">//</tspan><tspan dy="0.8">)</tspan></text>
<text x="106.50" y="687.50" font-size="10.4" text-anchor="end" textLength="16.06" lengthAdjust="spacingAndGlyphs" >1.0</text>
<text x="106.50" y="739.10" font-size="10.4" text-anchor="end" textLength="16.06" lengthAdjust="spacingAndGlyphs" >0.0</text>
<text x="106.50" y="790.70" font-size="10.4" text-anchor="end" textLength="19.71" lengthAdjust="spacingAndGlyphs" >-1.0</text>
<text transform="translate(79.6,735.70) rotate(-90)" font-size="10.4" text-anchor="middle" textLength="28.9" lengthAdjust="spacingAndGlyphs">Δ<tspan font-style="italic">δ</tspan> (<tspan font-style="italic" font-size="8.6" dy="-0.8">//</tspan><tspan dy="0.8">)</tspan></text>
<text x="115.70" y="44.10" font-size="10.4" text-anchor="start" textLength="31.32" lengthAdjust="spacingAndGlyphs" >FU Ori</text>
<text x="114.70" y="56.80" font-size="10.4" text-anchor="start" ><tspan font-style="italic">J</tspan></text>
<text x="122.10" y="56.20" font-size="10.4" text-anchor="start" textLength="25.41" lengthAdjust="spacingAndGlyphs" >band</text>
<text x="115.70" y="68.20" font-size="10.4" text-anchor="start" ><tspan font-style="italic">I</tspan></text>
<text x="280.10" y="214.80" font-size="10.4" text-anchor="middle" textLength="33.77" lengthAdjust="spacingAndGlyphs" >420<tspan dx="1.2">au</tspan></text>
<path d="M259.80 222.30H301.00" stroke="#000" stroke-width="1.2"/>
<path d="M256.80 222.30l4.6 -2.4v4.8zM304.00 222.30l-4.6 -2.4v4.8z" fill="#000"/>
<text x="316.90" y="44.10" font-size="10.4" text-anchor="start" textLength="48.24" lengthAdjust="spacingAndGlyphs" >MWC 789</text>
<text x="316.70" y="56.20" font-size="10.4" text-anchor="start" ><tspan font-style="italic">H</tspan></text>
<text x="328.50" y="56.20" font-size="10.4" text-anchor="start" textLength="25.41" lengthAdjust="spacingAndGlyphs" >band</text>
<text x="316.90" y="68.20" font-size="10.4" text-anchor="start" ><tspan font-style="italic">I</tspan></text>
<text x="481.30" y="214.80" font-size="10.4" text-anchor="middle" textLength="33.77" lengthAdjust="spacingAndGlyphs" >700<tspan dx="1.2">au</tspan></text>
<path d="M461.00 222.30H502.20" stroke="#000" stroke-width="1.2"/>
<path d="M458.00 222.30l4.6 -2.4v4.8zM505.20 222.30l-4.6 -2.4v4.8z" fill="#000"/>
<text x="115.70" y="245.30" font-size="10.4" text-anchor="start" textLength="57.14" lengthAdjust="spacingAndGlyphs" >HD 139614</text>
<text x="114.70" y="258.00" font-size="10.4" text-anchor="start" ><tspan font-style="italic">J</tspan></text>
<text x="122.10" y="257.40" font-size="10.4" text-anchor="start" textLength="25.41" lengthAdjust="spacingAndGlyphs" >band</text>
<text x="115.70" y="269.40" font-size="10.4" text-anchor="start" ><tspan font-style="italic">I</tspan></text>
<text x="280.10" y="416.00" font-size="10.4" text-anchor="middle" textLength="33.77" lengthAdjust="spacingAndGlyphs" >130<tspan dx="1.2">au</tspan></text>
<path d="M259.80 423.50H301.00" stroke="#000" stroke-width="1.2"/>
<path d="M256.80 423.50l4.6 -2.4v4.8zM304.00 423.50l-4.6 -2.4v4.8z" fill="#000"/>
<text x="316.90" y="245.30" font-size="10.4" text-anchor="start" textLength="57.14" lengthAdjust="spacingAndGlyphs" >HD 139614</text>
<text x="316.70" y="257.40" font-size="10.4" text-anchor="start" ><tspan font-style="italic">H</tspan></text>
<text x="328.50" y="257.40" font-size="10.4" text-anchor="start" textLength="25.41" lengthAdjust="spacingAndGlyphs" >band</text>
<text x="316.90" y="269.40" font-size="10.4" text-anchor="start" ><tspan font-style="italic">I</tspan></text>
<text x="481.30" y="416.00" font-size="10.4" text-anchor="middle" textLength="33.77" lengthAdjust="spacingAndGlyphs" >130<tspan dx="1.2">au</tspan></text>
<path d="M461.00 423.50H502.20" stroke="#000" stroke-width="1.2"/>
<path d="M458.00 423.50l4.6 -2.4v4.8zM505.20 423.50l-4.6 -2.4v4.8z" fill="#000"/>
<text x="115.70" y="446.50" font-size="10.4" text-anchor="start" textLength="50.71" lengthAdjust="spacingAndGlyphs" >HD 45677</text>
<text x="114.70" y="459.20" font-size="10.4" text-anchor="start" ><tspan font-style="italic">J</tspan></text>
<text x="122.10" y="458.60" font-size="10.4" text-anchor="start" textLength="25.41" lengthAdjust="spacingAndGlyphs" >band</text>
<text x="115.70" y="470.60" font-size="10.4" text-anchor="start" ><tspan font-style="italic">I</tspan></text>
<text x="280.10" y="617.20" font-size="10.4" text-anchor="middle" textLength="33.77" lengthAdjust="spacingAndGlyphs" >620<tspan dx="1.2">au</tspan></text>
<path d="M259.80 624.70H301.00" stroke="#000" stroke-width="1.2"/>
<path d="M256.80 624.70l4.6 -2.4v4.8zM304.00 624.70l-4.6 -2.4v4.8z" fill="#000"/>
<text x="316.90" y="446.50" font-size="10.4" text-anchor="start" textLength="50.71" lengthAdjust="spacingAndGlyphs" >HD 45677</text>
<text x="316.70" y="458.60" font-size="10.4" text-anchor="start" ><tspan font-style="italic">H</tspan></text>
<text x="328.50" y="458.60" font-size="10.4" text-anchor="start" textLength="25.41" lengthAdjust="spacingAndGlyphs" >band</text>
<text x="316.90" y="470.60" font-size="10.4" text-anchor="start" ><tspan font-style="italic">I</tspan></text>
<text x="481.30" y="617.20" font-size="10.4" text-anchor="middle" textLength="33.77" lengthAdjust="spacingAndGlyphs" >620<tspan dx="1.2">au</tspan></text>
<path d="M461.00 624.70H502.20" stroke="#000" stroke-width="1.2"/>
<path d="M458.00 624.70l4.6 -2.4v4.8zM505.20 624.70l-4.6 -2.4v4.8z" fill="#000"/>
<text x="115.70" y="647.70" font-size="10.4" text-anchor="start" textLength="52.77" lengthAdjust="spacingAndGlyphs" >Hen 3-365</text>
<text x="114.70" y="660.40" font-size="10.4" text-anchor="start" ><tspan font-style="italic">J</tspan></text>
<text x="122.10" y="659.80" font-size="10.4" text-anchor="start" textLength="25.41" lengthAdjust="spacingAndGlyphs" >band</text>
<text x="115.70" y="671.80" font-size="10.4" text-anchor="start" ><tspan font-style="italic">I</tspan></text>
<text x="280.10" y="818.40" font-size="10.4" text-anchor="middle" textLength="40.19" lengthAdjust="spacingAndGlyphs" >2000<tspan dx="1.2">au</tspan></text>
<path d="M259.80 825.90H301.00" stroke="#000" stroke-width="1.2"/>
<path d="M256.80 825.90l4.6 -2.4v4.8zM304.00 825.90l-4.6 -2.4v4.8z" fill="#000"/>
<rect x="53.00" y="31.20" width="6.5" height="201.20" fill="url(#cbg)" stroke="#000" stroke-width="0.8"/>
<path d="M53.00 229.90h-3.5M53.00 119.40h-3.5M53.00 196.64h-2M53.00 177.18h-2M53.00 163.37h-2M53.00 152.66h-2M53.00 143.91h-2M53.00 136.52h-2M53.00 130.11h-2M53.00 124.46h-2M53.00 86.14h-2M53.00 66.68h-2M53.00 52.87h-2M53.00 42.16h-2M53.00 33.41h-2" stroke="#000" stroke-width="0.7" fill="none"/>
<text x="46.50" y="233.60" font-size="10.4" text-anchor="end" textLength="12.85" lengthAdjust="spacingAndGlyphs" >10</text>
<text x="46.50" y="123.10" font-size="10.4" text-anchor="end" textLength="19.28" lengthAdjust="spacingAndGlyphs" >100</text>
<text transform="translate(20.60,132.30) rotate(-90)" x="0" y="0" font-size="10.4" text-anchor="middle" textLength="179.4" lengthAdjust="spacingAndGlyphs">Surface brightness (mJy arcsec<tspan dy="-4" font-size="7.3">−2</tspan><tspan dy="4">)</tspan></text>
<rect x="53.00" y="232.40" width="6.5" height="201.20" fill="url(#cbg)" stroke="#000" stroke-width="0.8"/>
<path d="M53.00 360.40h-3.5M53.00 249.90h-3.5M53.00 418.18h-2M53.00 404.37h-2M53.00 393.66h-2M53.00 384.91h-2M53.00 377.52h-2M53.00 371.11h-2M53.00 365.46h-2M53.00 327.14h-2M53.00 307.68h-2M53.00 293.87h-2M53.00 283.16h-2M53.00 274.41h-2M53.00 267.02h-2M53.00 260.61h-2M53.00 254.96h-2" stroke="#000" stroke-width="0.7" fill="none"/>
<text x="46.50" y="364.10" font-size="10.4" text-anchor="end" textLength="12.85" lengthAdjust="spacingAndGlyphs" >10</text>
<text x="46.50" y="253.60" font-size="10.4" text-anchor="end" textLength="19.28" lengthAdjust="spacingAndGlyphs" >100</text>
<text transform="translate(20.60,333.50) rotate(-90)" x="0" y="0" font-size="10.4" text-anchor="middle" textLength="179.4" lengthAdjust="spacingAndGlyphs">Surface brightness (mJy arcsec<tspan dy="-4" font-size="7.3">−2</tspan><tspan dy="4">)</tspan></text>
<rect x="53.00" y="433.60" width="6.5" height="201.20" fill="url(#cbg)" stroke="#000" stroke-width="0.8"/>
<path d="M53.00 608.10h-3.5M53.00 497.80h-3.5M53.00 632.57h-2M53.00 625.19h-2M53.00 618.79h-2M53.00 613.15h-2M53.00 574.90h-2M53.00 555.47h-2M53.00 541.69h-2M53.00 531.00h-2M53.00 522.27h-2M53.00 514.89h-2M53.00 508.49h-2M53.00 502.85h-2M53.00 464.60h-2M53.00 445.17h-2" stroke="#000" stroke-width="0.7" fill="none"/>
<text x="46.50" y="611.80" font-size="10.4" text-anchor="end" textLength="12.85" lengthAdjust="spacingAndGlyphs" >10</text>
<text x="46.50" y="501.50" font-size="10.4" text-anchor="end" textLength="19.28" lengthAdjust="spacingAndGlyphs" >100</text>
<text transform="translate(20.60,534.70) rotate(-90)" x="0" y="0" font-size="10.4" text-anchor="middle" textLength="179.4" lengthAdjust="spacingAndGlyphs">Surface brightness (mJy arcsec<tspan dy="-4" font-size="7.3">−2</tspan><tspan dy="4">)</tspan></text>
<rect x="53.00" y="634.80" width="6.5" height="201.20" fill="url(#cbg)" stroke="#000" stroke-width="0.8"/>
<path d="M53.00 747.10h-3.5M53.00 646.30h-3.5M53.00 817.56h-2M53.00 799.81h-2M53.00 787.21h-2M53.00 777.44h-2M53.00 769.46h-2M53.00 762.71h-2M53.00 756.87h-2M53.00 751.71h-2M53.00 716.76h-2M53.00 699.01h-2M53.00 686.41h-2M53.00 676.64h-2M53.00 668.66h-2M53.00 661.91h-2M53.00 656.07h-2M53.00 650.91h-2" stroke="#000" stroke-width="0.7" fill="none"/>
<text x="46.50" y="750.80" font-size="10.4" text-anchor="end" textLength="19.28" lengthAdjust="spacingAndGlyphs" >100</text>
<text x="46.50" y="650.00" font-size="10.4" text-anchor="end" textLength="25.70" lengthAdjust="spacingAndGlyphs" >1000</text>
<text transform="translate(13.80,735.90) rotate(-90)" x="0" y="0" font-size="10.4" text-anchor="middle" textLength="179.4" lengthAdjust="spacingAndGlyphs">Surface brightness (mJy arcsec<tspan dy="-4" font-size="7.3">−2</tspan><tspan dy="4">)</tspan></text>
<rect x="563.10" y="31.20" width="6.5" height="201.20" fill="url(#cbg)" stroke="#000" stroke-width="0.8"/>
<path d="M569.60 220.00h3.5M569.60 94.00h3.5M569.60 225.77h2M569.60 182.07h2M569.60 159.88h2M569.60 144.14h2M569.60 131.93h2M569.60 121.95h2M569.60 113.52h2M569.60 106.21h2M569.60 99.77h2M569.60 56.07h2M569.60 33.88h2" stroke="#000" stroke-width="0.7" fill="none"/>
<text x="575.10" y="223.70" font-size="10.4" text-anchor="start" textLength="12.85" lengthAdjust="spacingAndGlyphs" >10</text>
<text x="575.10" y="97.70" font-size="10.4" text-anchor="start" textLength="19.28" lengthAdjust="spacingAndGlyphs" >100</text>
<text transform="translate(609.40,132.30) rotate(-90)" x="0" y="0" font-size="10.4" text-anchor="middle" textLength="179.4" lengthAdjust="spacingAndGlyphs">Surface brightness (mJy arcsec<tspan dy="-4" font-size="7.3">−2</tspan><tspan dy="4">)</tspan></text>
<rect x="563.10" y="232.40" width="6.5" height="201.20" fill="url(#cbg)" stroke="#000" stroke-width="0.8"/>
<path d="M569.60 428.10h3.5M569.60 290.10h3.5M569.60 386.56h2M569.60 362.26h2M569.60 345.02h2M569.60 331.64h2M569.60 320.72h2M569.60 311.48h2M569.60 303.47h2M569.60 296.41h2M569.60 248.56h2" stroke="#000" stroke-width="0.7" fill="none"/>
<text x="575.10" y="431.80" font-size="10.4" text-anchor="start" textLength="12.85" lengthAdjust="spacingAndGlyphs" >10</text>
<text x="575.10" y="293.80" font-size="10.4" text-anchor="start" textLength="19.28" lengthAdjust="spacingAndGlyphs" >100</text>
<text transform="translate(609.40,333.50) rotate(-90)" x="0" y="0" font-size="10.4" text-anchor="middle" textLength="179.4" lengthAdjust="spacingAndGlyphs">Surface brightness (mJy arcsec<tspan dy="-4" font-size="7.3">−2</tspan><tspan dy="4">)</tspan></text>
<rect x="563.10" y="433.60" width="6.5" height="201.20" fill="url(#cbg)" stroke="#000" stroke-width="0.8"/>
<path d="M569.60 584.20h3.5M569.60 446.20h3.5M569.60 625.74h2M569.60 614.82h2M569.60 605.58h2M569.60 597.57h2M569.60 590.51h2M569.60 542.66h2M569.60 518.36h2M569.60 501.12h2M569.60 487.74h2M569.60 476.82h2M569.60 467.58h2M569.60 459.57h2M569.60 452.51h2" stroke="#000" stroke-width="0.7" fill="none"/>
<text x="575.10" y="587.90" font-size="10.4" text-anchor="start" textLength="19.28" lengthAdjust="spacingAndGlyphs" >100</text>
<text x="575.10" y="449.90" font-size="10.4" text-anchor="start" textLength="25.70" lengthAdjust="spacingAndGlyphs" >1000</text>
<text transform="translate(615.80,534.70) rotate(-90)" x="0" y="0" font-size="10.4" text-anchor="middle" textLength="179.4" lengthAdjust="spacingAndGlyphs">Surface brightness (mJy arcsec<tspan dy="-4" font-size="7.3">−2</tspan><tspan dy="4">)</tspan></text>
</svg></body></html>
